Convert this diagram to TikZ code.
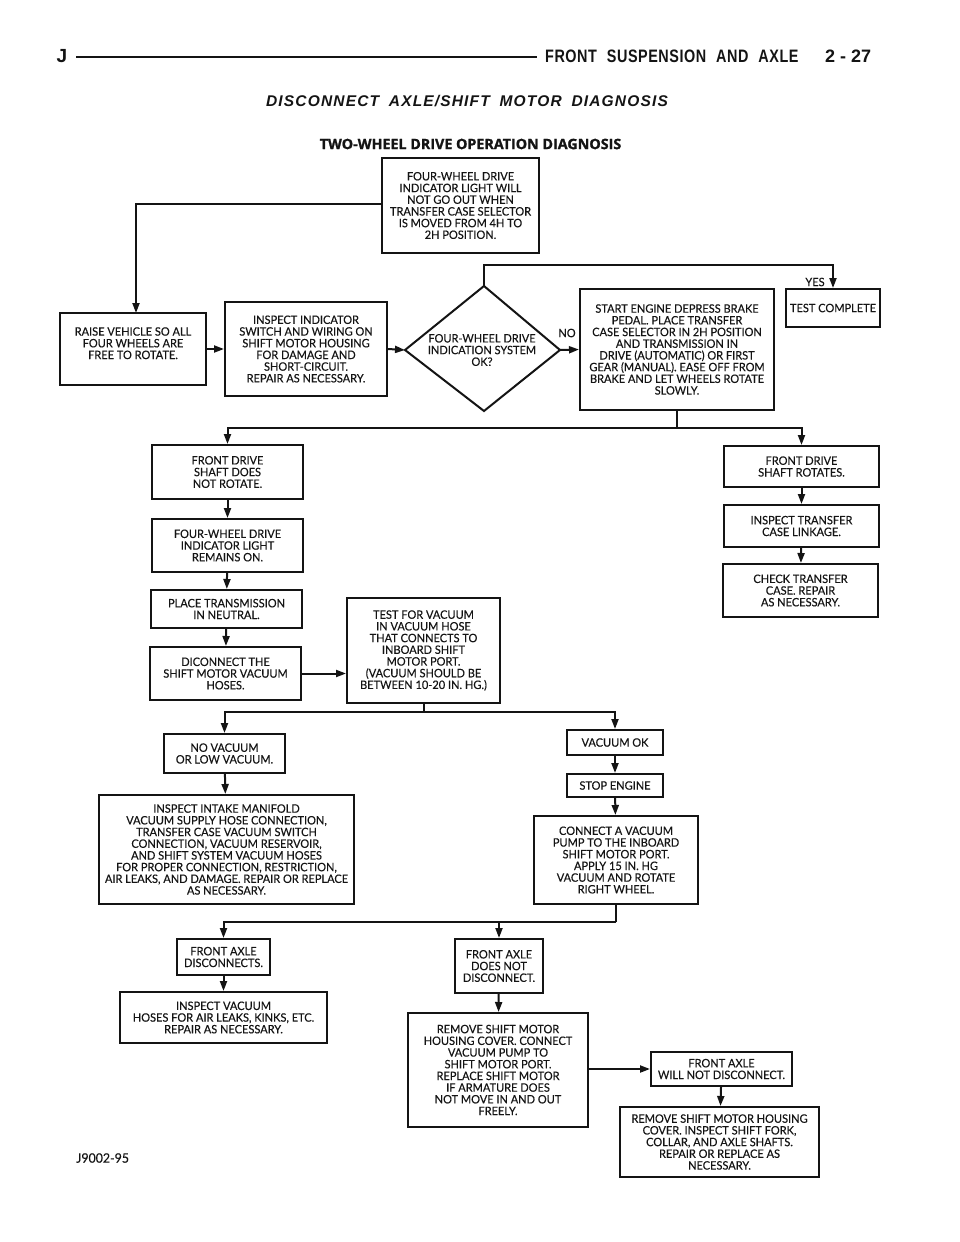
\documentclass[tikz,border=0pt]{standalone}
\usepackage{fontspec}
\setmainfont[FakeStretch=0.95,FakeBold=0.25]{Lato}
\newfontfamily\hdfont[FakeStretch=0.8,WordSpace=2.2,LetterSpace=3]{Liberation Sans}
\newfontfamily\pgfont[WordSpace=1.8]{Liberation Sans}
\newfontfamily\jfont{Liberation Sans}
\newfontfamily\ttlfont[LetterSpace=7.5,WordSpace=1.8]{Liberation Sans}
\newfontfamily\subfont[BoldFeatures={FakeBold=1.2}]{Open Sans}
\usetikzlibrary{arrows.meta}
\definecolor{ink}{HTML}{141414}
\tikzset{
  every node/.style={text=ink},
  boxnode/.style={draw=ink,line width=2pt,align=center,inner sep=0pt,fill=white,
    font=\fontsize{11.6}{11.7}\selectfont},
  lab/.style={inner sep=0pt,font=\fontsize{11.6}{11.7}\selectfont},
  conn/.style={draw=ink,line width=2pt},
  arr/.style={conn,-{Stealth[length=10pt,width=7pt,inset=0pt]}}
}
% \bx{name}{x1}{y1}{x2}{y2}{text}
\newcommand{\bx}[6]{\node[boxnode,minimum width={#4pt-#2pt},minimum height={#5pt-#3pt}] (#1) at ({(#2+#4)/2},{(#3+#5)/2}) {#6};}
\begin{document}
\begin{tikzpicture}[x=1pt,y=-1pt]
\useasboundingbox[fill=white] (0,0) rectangle (960,1242);
% header
\node[inner sep=0pt,anchor=center,font=\fontsize{19}{19}\selectfont\jfont\bfseries] (hj) at (62,56) {J};
\coordinate (hl) at (76,57);
\coordinate (hr) at (537,57);
\draw[draw=ink,line width=2.6pt] (hl) -- (hr);
\node[inner sep=0pt,anchor=west,font=\fontsize{18}{18}\selectfont\hdfont\bfseries] (ht) at (545,56) {FRONT SUSPENSION AND AXLE};
\node[inner sep=0pt,anchor=west,font=\fontsize{18}{18}\selectfont\pgfont\bfseries] (hp) at (825,56) {2 - 27};
\node[inner sep=0pt,font=\fontsize{15.5}{15}\selectfont\ttlfont\bfseries\itshape] (title) at (467,101) {DISCONNECT AXLE/SHIFT MOTOR DIAGNOSIS};
\node[inner sep=0pt,font=\fontsize{14.3}{14}\selectfont\subfont\bfseries] (sub) at (470.5,144) {TWO-WHEEL DRIVE OPERATION DIAGNOSIS};
% boxes
\bx{top}{382}{158}{539}{253}{FOUR-WHEEL DRIVE\\INDICATOR LIGHT WILL\\NOT GO OUT WHEN\\TRANSFER CASE SELECTOR\\IS MOVED FROM 4H TO\\2H POSITION.}
\bx{raise}{60}{313}{206}{385}{RAISE VEHICLE SO ALL\\FOUR WHEELS ARE\\FREE TO ROTATE.\\\mbox{}}
\bx{insp}{225}{302}{387}{396}{INSPECT INDICATOR\\SWITCH AND WIRING ON\\SHIFT MOTOR HOUSING\\FOR DAMAGE AND\\SHORT-CIRCUIT.\\REPAIR AS NECESSARY.}
\coordinate (dt) at (484,286);
\coordinate (dl) at (405,350);
\coordinate (dr) at (560,350);
\coordinate (db) at (484,411);
\draw[draw=ink,line width=2pt,line join=miter] (dt) -- (dr) -- (db) -- (dl) -- cycle;
\node[lab,align=center] (dtext) at (482,350) {FOUR-WHEEL DRIVE\\INDICATION SYSTEM\\OK?};
\bx{start}{580}{289}{774}{410}{START ENGINE DEPRESS BRAKE\\PEDAL. PLACE TRANSFER\\CASE SELECTOR IN 2H POSITION\\AND TRANSMISSION IN\\DRIVE (AUTOMATIC) OR FIRST\\GEAR (MANUAL). EASE OFF FROM\\BRAKE AND LET WHEELS ROTATE\\SLOWLY.}
\bx{done}{786}{289}{880}{327}{TEST COMPLETE}
\bx{fdn}{152}{445}{303}{499}{FRONT DRIVE\\SHAFT DOES\\NOT ROTATE.}
\bx{fwd}{152}{519}{303}{572}{FOUR-WHEEL DRIVE\\INDICATOR LIGHT\\REMAINS ON.}
\bx{place}{151}{590}{302}{628}{PLACE TRANSMISSION\\IN NEUTRAL.}
\bx{dic}{150}{647}{301}{700}{DICONNECT THE\\SHIFT MOTOR VACUUM\\HOSES.}
\bx{tfv}{347}{598}{500}{703}{TEST FOR VACUUM\\IN VACUUM HOSE\\THAT CONNECTS TO\\INBOARD SHIFT\\MOTOR PORT.\\(VACUUM SHOULD BE\\BETWEEN 10-20 IN. HG.)}
\bx{fdr}{724}{446}{879}{487}{FRONT DRIVE\\SHAFT ROTATES.}
\bx{itl}{724}{505}{879}{547}{INSPECT TRANSFER\\CASE LINKAGE.}
\bx{ctc}{723}{564}{878}{617}{CHECK TRANSFER\\CASE. REPAIR\\AS NECESSARY.}
\bx{nov}{164}{734}{285}{773}{NO VACUUM\\OR LOW VACUUM.}
\bx{iim}{99}{795}{354}{904}{INSPECT INTAKE MANIFOLD\\VACUUM SUPPLY HOSE CONNECTION,\\TRANSFER CASE VACUUM SWITCH\\CONNECTION, VACUUM RESERVOIR,\\AND SHIFT SYSTEM VACUUM HOSES\\FOR PROPER CONNECTION, RESTRICTION,\\AIR LEAKS, AND DAMAGE. REPAIR OR REPLACE\\AS NECESSARY.}
\bx{vok}{567}{730}{663}{755}{VACUUM OK}
\bx{stp}{567}{774}{663}{797}{STOP ENGINE}
\bx{cvp}{534}{816}{698}{904}{CONNECT A VACUUM\\PUMP TO THE INBOARD\\SHIFT MOTOR PORT.\\APPLY 15 IN. HG\\VACUUM AND ROTATE\\RIGHT WHEEL.}
\bx{fad}{177}{939}{270}{975}{FRONT AXLE\\DISCONNECTS.}
\bx{fan}{455}{939}{543}{993}{FRONT AXLE\\DOES NOT\\DISCONNECT.}
\bx{ivh}{120}{992}{327}{1043}{INSPECT VACUUM\\HOSES FOR AIR LEAKS, KINKS, ETC.\\REPAIR AS NECESSARY.}
\bx{rsm}{408}{1013}{588}{1127}{REMOVE SHIFT MOTOR\\HOUSING COVER. CONNECT\\VACUUM PUMP TO\\SHIFT MOTOR PORT.\\REPLACE SHIFT MOTOR\\IF ARMATURE DOES\\NOT MOVE IN AND OUT\\FREELY.}
\bx{wnd}{651}{1052}{792}{1086}{FRONT AXLE\\WILL NOT DISCONNECT.}
\bx{rsh}{620}{1107}{819}{1177}{REMOVE SHIFT MOTOR HOUSING\\COVER. INSPECT SHIFT FORK,\\COLLAR, AND AXLE SHAFTS.\\REPAIR OR REPLACE AS\\NECESSARY.}
% labels
\node[lab] (yes) at (815,282) {YES};
\node[lab] (no) at (567,333) {NO};
\node[inner sep=0pt,anchor=west,font=\fontsize{13}{13}\selectfont] (fig) at (76,1158) {J9002-95};
% connectors
\coordinate (rtop) at (136,313);
\coordinate (topy) at (0,204);
\coordinate (bus1) at (0,428);
\coordinate (bus2) at (0,712);
\coordinate (bus3) at (0,922);
\coordinate (yesy) at (0,265);
\draw[arr] (top.west |- topy) -| (rtop);
\draw[arr] (raise.east) -- (insp.west);
\draw[arr] (insp.east) -- (dl);
\draw[arr] (dr) -- (start.west);
\draw[arr] (dt) -- (dt |- yesy) -| (done.north);
\draw[conn] (start.south) -- (start.south |- bus1);
\draw[arr] (start.south |- bus1) -| (fdn.north);
\draw[arr] (start.south |- bus1) -| (fdr.north);
\draw[arr] (fdn) -- (fwd);
\draw[arr] (fwd) -- (place);
\draw[arr] (place) -- (dic);
\draw[arr] (dic.east) -- (dic.east -| tfv.west);
\draw[arr] (fdr) -- (itl);
\draw[arr] (itl) -- (ctc);
\draw[conn] (tfv.south) -- (tfv.south |- bus2);
\draw[arr] (tfv.south |- bus2) -| (nov.north);
\draw[arr] (tfv.south |- bus2) -| (vok.north);
\draw[arr] (nov) -- (iim);
\draw[arr] (vok) -- (stp);
\draw[arr] (stp) -- (cvp);
\draw[conn] (cvp.south) -- (cvp.south |- bus3);
\draw[arr] (cvp.south |- bus3) -| (fad.north);
\draw[arr] (cvp.south |- bus3) -| (fan.north);
\draw[arr] (fad) -- (ivh);
\draw[arr] (fan) -- (rsm);
\draw[arr] (rsm.east |- wnd.west) -- (wnd.west);
\draw[arr] (wnd) -- (rsh);
\end{tikzpicture}
\end{document}
